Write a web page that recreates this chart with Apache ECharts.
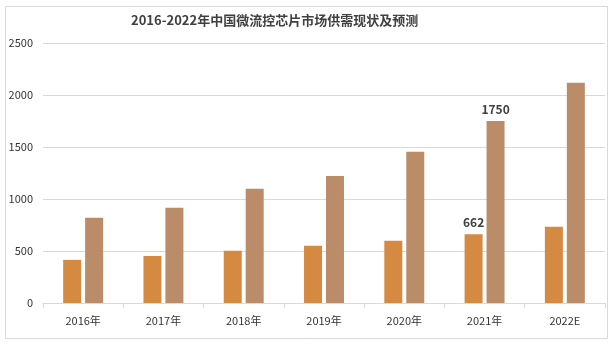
<!DOCTYPE html>
<html>
<head>
<meta charset="utf-8">
<script src="https://cdn.jsdelivr.net/npm/echarts@6/dist/echarts.min.js"></script>
<style>
html,body{margin:0;padding:0;background:#fff;}
#c{width:616px;height:344px;}
</style>
</head>
<body>
<div id="c"></div>
<script>
const titleText = '2016-2022年中国微流控芯片市场供需现状及预测';
const categories = ['2016年','2017年','2018年','2019年','2020年','2021年','2022E'];
const supplyValues = [415, 452, 502, 550, 598, 662, 732];
const demandValues = [820, 916, 1098, 1222, 1455, 1750, 2118];
const yTicks = [0, 500, 1000, 1500, 2000, 2500];
const labelCategory = '2021年';

const font = '"Noto Sans CJK SC", "Microsoft YaHei", sans-serif';
const chart = echarts.init(document.getElementById('c'), null, {renderer:'canvas'});

function labeled(values){
  return values.map((v,i)=>({
    value:v,
    label:{show: categories[i]===labelCategory}
  }));
}

chart.setOption({
  animation:false,
  backgroundColor:'#ffffff',
  graphic:[{
    type:'rect', left:3, top:4, shape:{width:602, height:332},
    style:{fill:'none', stroke:'#d9d9d9', lineWidth:1}, silent:true
  }],
  title:{
    text:titleText, left:126, top:9,
    textStyle:{fontFamily:font, fontSize:13, fontWeight:'bold', color:'#404040'}
  },
  grid:{left:43, right:11, top:43, bottom:41, containLabel:false},
  xAxis:{
    type:'category',
    data:categories.map(c => c==='2022E' ? {value:c, textStyle:{lineHeight:11, padding:[0,0,5,0]}} : c),
    axisLine:{lineStyle:{color:'#d9d9d9'}},
    axisTick:{show:true, length:5, lineStyle:{color:'#d9d9d9'}},
    axisLabel:{fontFamily:font, fontSize:11, color:'#333333', margin:12}
  },
  yAxis:{
    type:'value', min:yTicks[0], max:yTicks[yTicks.length-1], interval:500,
    axisLine:{show:false}, axisTick:{show:false},
    splitLine:{lineStyle:{color:'#d9d9d9'}},
    axisLabel:{fontFamily:font, fontSize:11, color:'#333333', margin:10, formatter: v => String(v)}
  },
  series:[
    {
      type:'bar', name:'供给', data:labeled(supplyValues),
      barWidth:18, barGap:'22%',
      itemStyle:{color:'#d58a42'},
      label:{position:'top', distance:6, fontFamily:font, fontSize:12, fontWeight:'bold', color:'#404040'}
    },
    {
      type:'bar', name:'需求', data:labeled(demandValues),
      barWidth:18,
      itemStyle:{color:'#ba8c68'},
      label:{position:'top', distance:6, fontFamily:font, fontSize:12, fontWeight:'bold', color:'#404040'}
    }
  ]
});
</script>
</body>
</html>
